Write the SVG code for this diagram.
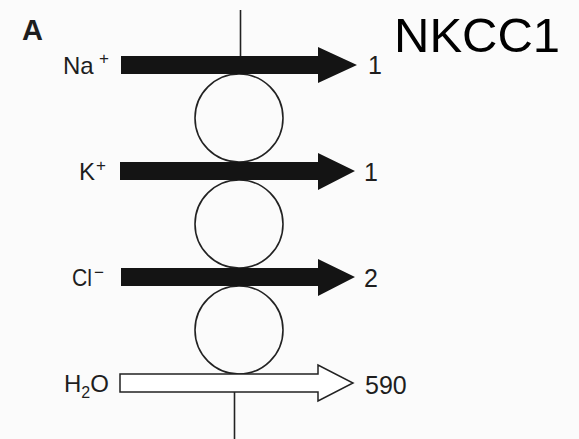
<svg xmlns="http://www.w3.org/2000/svg" width="579" height="439" viewBox="0 0 579 439">
  <style>
    .lbl { font-family: "Liberation Sans", Arial, sans-serif; fill: #1e1e1e; }
    .ion { font-size: 24px; }
    .sup { font-size: 17px; }
    .num { font-size: 25px; }
    .circ { fill: none; stroke: #222; stroke-width: 1.6; }
    .line { stroke: #222; stroke-width: 1.6; fill: none; }
    .solid { fill: #141414; }
    .open { fill: #ffffff; stroke: #222; stroke-width: 1.5; stroke-linejoin: miter; }
  </style>
  <rect x="0" y="0" width="579" height="439" fill="#fbfbfb"/>

  <g id="panel-label">
    <text class="lbl" x="22" y="40" font-size="29" font-weight="bold">A</text>
  </g>
  <g id="title">
    <text x="394" y="52" font-family="'Liberation Sans', Arial, sans-serif" font-size="49" fill="#000">NKCC1</text>
  </g>

  <g id="transporter">
    <circle class="circ" cx="239" cy="118" r="44"/>
    <circle class="circ" cx="239" cy="224" r="44"/>
    <circle class="circ" cx="239" cy="330" r="44"/>
  </g>

  <g id="connectors">
    <line class="line" x1="240.5" y1="10" x2="240.5" y2="57"/>
    <line class="line" x1="234.5" y1="392" x2="234.5" y2="439"/>
    <polygon id="arrow-na" class="solid" points="121,56 318,56 318,47 357,65 318,83 318,74 121,74"/>
    <polygon id="arrow-k" class="solid" points="120,162 318,162 318,153 355,171 318,190 318,180 120,180"/>
    <polygon id="arrow-cl" class="solid" points="121,268 318,268 318,259 355,277 318,296 318,286 121,286"/>
    <polygon id="arrow-h2o" class="open" points="120,374 318,374 318,365 353,383 318,401 318,392 120,392"/>
  </g>

  <g id="node-na">
    <text class="lbl ion" x="63" y="74">Na</text>
    <text class="lbl sup" x="99" y="64">+</text>
    <text class="lbl num" x="368" y="74">1</text>
  </g>
  <g id="node-k">
    <text class="lbl ion" x="79" y="180">K</text>
    <text class="lbl sup" x="96" y="171">+</text>
    <text class="lbl num" x="364" y="181">1</text>
  </g>
  <g id="node-cl">
    <text class="lbl ion" x="72" y="286" textLength="20" lengthAdjust="spacingAndGlyphs">Cl</text>
    <text class="lbl sup" x="94" y="278">−</text>
    <text class="lbl num" x="364" y="287">2</text>
  </g>
  <g id="node-h2o">
    <text class="lbl ion" x="64" y="392">H<tspan font-size="16" dy="6">2</tspan><tspan dy="-6">O</tspan></text>
    <text class="lbl num" x="365" y="394">590</text>
  </g>
</svg>
